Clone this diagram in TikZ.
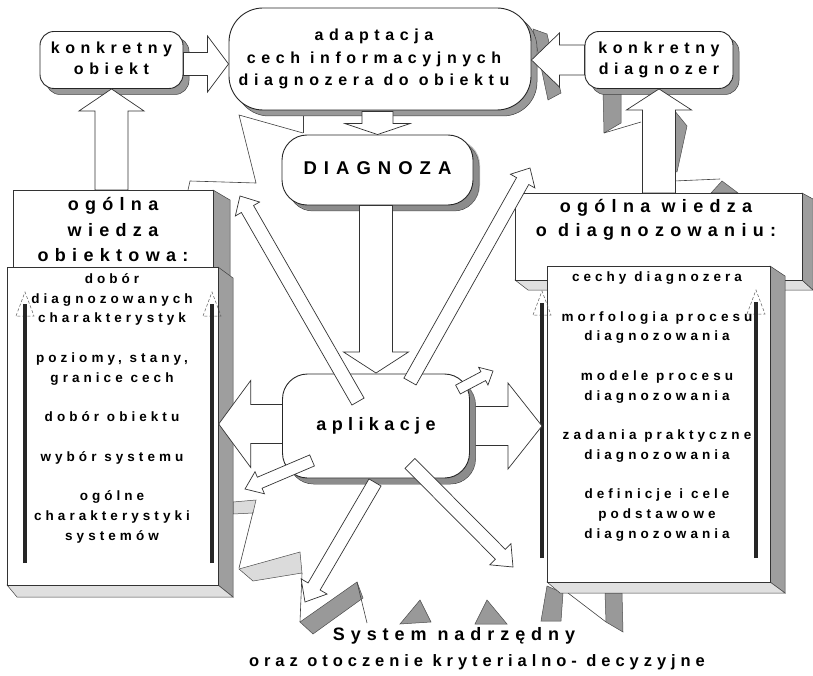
\documentclass[tikz,border=0pt]{standalone}
\usepackage{fontspec}
\setmainfont{Liberation Sans}
\usetikzlibrary{calc,shadows}

% centred stacks of lines: [t] keeps the first line on the node baseline
\newcommand\stackt[1]{\begin{tabular}[t]{@{}c@{}}#1\end{tabular}}
\newcommand\stackc[1]{\begin{tabular}{@{}c@{}}#1\end{tabular}}
% bold, letter-spaced type: size, line skip, tracking
\newcommand\spaced[3]{\bfseries\fontsize{#1}{#2}\selectfont\addfontfeature{LetterSpace=#3}}

% hollow block arrow: [style] start, tip, shaft half width, head half width, head length
\newcommand\blockarrow[6][]{%
  \coordinate (bahead) at ($(#3)!#6pt!(#2)$);
  \draw[barrow,#1] ($(#2)!#4pt!90:(#3)$) -- ($(bahead)!#4pt!90:(#3)$)
    -- ($(bahead)!#5pt!90:(#3)$) -- (#3) -- ($(bahead)!#5pt!-90:(#3)$)
    -- ($(bahead)!#4pt!-90:(#3)$) -- ($(#2)!#4pt!-90:(#3)$) -- cycle;}

\tikzset{
  thinln/.style={draw=black!75, line width=0.6pt},
  shade/.style={fill=black!40, draw=black!70, line width=0.5pt},
  lightshade/.style={fill=black!14, draw=black!70, line width=0.5pt},
  barrow/.style={draw=black!80, fill=white, line width=0.7pt, line join=miter},
  rbox/.style={rectangle, draw=black!85, fill=white, line width=0.9pt, inner sep=0pt,
    drop shadow={shadow xshift=6pt, shadow yshift=-6pt, fill=black!40,
      draw=black!75, line width=0.5pt, opacity=1}},
  panel/.style={rectangle, draw=black!80, fill=white, line width=0.7pt,
    inner sep=0pt, anchor=north west},
  sideface/.style={fill=black!38, draw=black!75, line width=0.5pt},
  baseface/.style={fill=black!12, draw=black!75, line width=0.5pt},
  vbar/.style={draw=black!85, line width=3.3pt},
  hollowhead/.style={draw=black!65, line width=0.5pt, densely dashed},
  boxtext/.style={font={\spaced{16}{20.6}{35}}},
  headtext/.style={font={\spaced{18}{25.5}{35}}, inner sep=0pt, anchor=base},
  listtext/.style={font={\spaced{13.5}{19.75}{30}}, inner sep=0pt, anchor=base},
}

\begin{document}
\begin{tikzpicture}[x=1pt,y=-1pt]
\useasboundingbox (0,0) rectangle (813,676);
\fill[white] (0,0) rectangle (813,676);

% ---- zig-zag frame pieces behind everything ----
\draw[thinln] (188,190) -- (190,181) -- (256,183) -- (239,115) -- (303,133);
\draw[thinln] (303,110) -- (303,133);
\draw[shade] (533,29) -- (547,34) -- (561,93) -- (548,100) -- cycle;
\draw[shade] (603,90) -- (621,90) -- (621,123) -- (604,133) -- cycle;
\draw[thinln] (604,133) -- (641,122);
\draw[shade] (674,110) -- (687,126) -- (677,172) -- (674,172) -- cycle;
\draw[thinln] (674,181) -- (720,179);
\draw[shade] (711,193) -- (722,181) -- (738,193) -- cycle;

\draw[lightshade] (233,502) -- (256,500) -- (253,513) -- (233,514) -- cycle;
\draw[thinln] (253,512) -- (239,568);
\draw[lightshade] (239,569) -- (300,552) -- (302,573) -- (253,581) -- cycle;
\draw[thinln] (302,573) -- (300,622);
\draw[shade] (300,622) -- (357,582) -- (363,598) -- (313,634) -- cycle;
\draw[thinln] (357,582) -- (367,623);
\draw[shade] (400,624) -- (420,600) -- (431,622) -- cycle;
\draw[shade] (475,624) -- (487,600) -- (507,624) -- cycle;

\draw[shade] (547,586) -- (563,593) -- (561,621) -- (541,621) -- cycle;
\draw[thinln] (568,593) -- (606,622);
\draw[shade] (605,593) -- (622,593) -- (623,632) -- (606,622) -- cycle;

% ---- knowledge panels (back sheets) ----
\draw[baseface] (515,280) -- (802,280) -- (813,290) -- (528,290) -- cycle;
\draw[sideface] (802,193) -- (813,199) -- (813,290) -- (802,280) -- cycle;
\node[panel, minimum width=287pt, minimum height=87pt] (wiedzaR) at (515,193) {};

\draw[sideface] (213,190) -- (230,200) -- (230,276) -- (213,270) -- cycle;
\node[panel, minimum width=200pt, minimum height=80pt] (wiedzaLb) at (13,190) {};

% ---- front sheets ----
\draw[sideface] (218,267) -- (233,278) -- (233,597) -- (218,585) -- cycle;
\draw[baseface] (7,585) -- (218,585) -- (233,597) -- (17,597) -- cycle;
\node[panel, minimum width=211pt, minimum height=318pt] (wiedzaL) at (7,267) {};

\draw[sideface] (770,266) -- (785,276) -- (785,593) -- (770,582) -- cycle;
\draw[baseface] (547,582) -- (770,582) -- (785,593) -- (560,593) -- cycle;
\node[panel, minimum width=223pt, minimum height=316pt] (wiedzaRf) at (547,266) {};

% ---- panel texts ----
\node[headtext] (tLh) at (113,210.7) {\stackt{ogólna\\wiedza\\obiektowa:}};
\node[headtext, font={\spaced{18}{23.7}{35}}] (tRh) at (656,213) {\stackt{ogólna wiedza\\o diagnozowaniu:}};

\node[listtext] (tL) at (112,283.3) {\stackt{dobór\\diagnozowanych\\charakterystyk\\ \\
  poziomy, stany,\\granice cech\\ \\dobór obiektu\\ \\wybór systemu\\ \\
  ogólne\\charakterystyki\\systemów}};
\node[listtext] (tR) at (657,281.7) {\stackt{cechy diagnozera\\ \\morfologia procesu\\
  diagnozowania\\ \\modele procesu\\diagnozowania\\ \\zadania praktyczne\\
  diagnozowania\\ \\definicje i cele\\podstawowe\\diagnozowania}};

% ---- rising bars with open heads ----
\foreach \bx/\by/\bt in {25/563/292, 212/563/292, 542/558/291, 756/558/290}{
  \draw[hollowhead] (\bx-9,\bt+24) -- (\bx,\bt) -- (\bx+9,\bt+24) -- cycle;
  \draw[vbar] (\bx,\by) -- (\bx,\bt+12);
}

% ---- upper boxes ----
\node[rbox, rounded corners=14pt, minimum width=143pt, minimum height=57pt, boxtext]
  (obiekt) at (111.5,60) {\stackc{konkretny\\obiekt}};
\node[rbox, rounded corners=34pt, minimum width=302pt, minimum height=102pt,
  font={\spaced{16}{22.5}{35}}]
  (adapt) at (380,59) {\stackc{adaptacja\\cech informacyjnych\\diagnozera do obiektu}\hspace*{12pt}};
\node[rbox, rounded corners=14pt, minimum width=148pt, minimum height=57pt, boxtext]
  (diagnozer) at (659,60) {\stackc{konkretny\\diagnozer}};
\node[rbox, rounded corners=25pt, minimum width=191pt, minimum height=70pt,
  font={\spaced{18.5}{22}{38}}, drop shadow={shadow xshift=7pt, shadow yshift=-5pt}]
  (diag) at (377.5,170) {\stackc{DIAGNOZA}};

% ---- arrows between the upper boxes and the panels ----
\coordinate (obE) at ($(obiekt.east)+(0,4)$);
\coordinate (adW) at ($(obiekt.east -| adapt.west)+(0,4)$);
\coordinate (adS) at ($(diag.north |- adapt.south)+(0,1)$);
\blockarrow{obE}{adW}{11.5}{28}{21}
\blockarrow{diagnozer.west}{diagnozer.west -| adapt.east}{15}{27}{28}
\blockarrow{obiekt.south |- wiedzaLb.north}{obiekt.south}{16.5}{32.5}{22}
\blockarrow{diagnozer.south |- wiedzaR.north}{diagnozer.south}{16.5}{32.5}{21}
\blockarrow{adS}{diag.north}{15.5}{32.5}{11}

% ---- applications and its outgoing arrows ----
\coordinate (aplikc) at (376,426);
\coordinate (aplikN) at (376,373);
\coordinate (aplikW) at (296,424);
\coordinate (aplikE) at (456,426);
\coordinate (tipW) at ($(aplikW -| wiedzaL.east)$);
\coordinate (tipE) at ($(aplikE -| wiedzaRf.west)+(-5,0)$);
\blockarrow{aplikN |- diag.south}{aplikN}{16.5}{32.5}{21}
\blockarrow{aplikW}{tipW}{19.5}{43.5}{32}
\blockarrow{aplikE}{tipE}{19.5}{43}{34}

\node[rbox, rounded corners=25pt, minimum width=187pt, minimum height=104pt,
  font={\spaced{18}{22}{30}}, drop shadow={shadow xshift=6pt, shadow yshift=-5pt}]
  (aplik) at (aplikc) {\stackc{aplikacje}};

\coordinate (tipUL) at (240,196);
\coordinate (tipUR) at (530,168);
\coordinate (tipSR) at (493,371);
\coordinate (tipSL) at (245,489);
\coordinate (tipDL) at (305,602);
\coordinate (tipDR) at (513,567);
\coordinate (srcUL) at ($(aplik.north)+(-18,28)$);
\coordinate (srcUR) at ($(aplik.north)+(34,8)$);
\coordinate (srcSR) at ($(aplik.north east)+(-12,16)$);
\coordinate (srcSL) at ($(aplik.south west)+(30,-18)$);
\coordinate (srcDL) at ($(aplik.south)+(-1,4)$);
\coordinate (srcDR) at ($(aplik.south)+(34,-15)$);
\blockarrow{srcUL}{tipUL}{7}{14}{15}
\blockarrow{srcUR}{tipUR}{7}{14}{15}
\blockarrow{srcSR}{tipSR}{5}{10}{11}
\blockarrow{srcSL}{tipSL}{6}{12}{16}
\blockarrow{srcDL}{tipDL}{7}{15}{18}
\blockarrow{srcDR}{tipDR}{7}{15}{18}

% ---- superior system ----
\node[inner sep=0pt, anchor=base, font={\spaced{18}{22}{33}}] (sys1) at (454,640) {System nadrzędny};
\node[inner sep=0pt, anchor=base, font={\spaced{16.5}{20}{30}}] (sys2) at (477,666) {oraz otoczenie kryterialno- decyzyjne};
\end{tikzpicture}
\end{document}
